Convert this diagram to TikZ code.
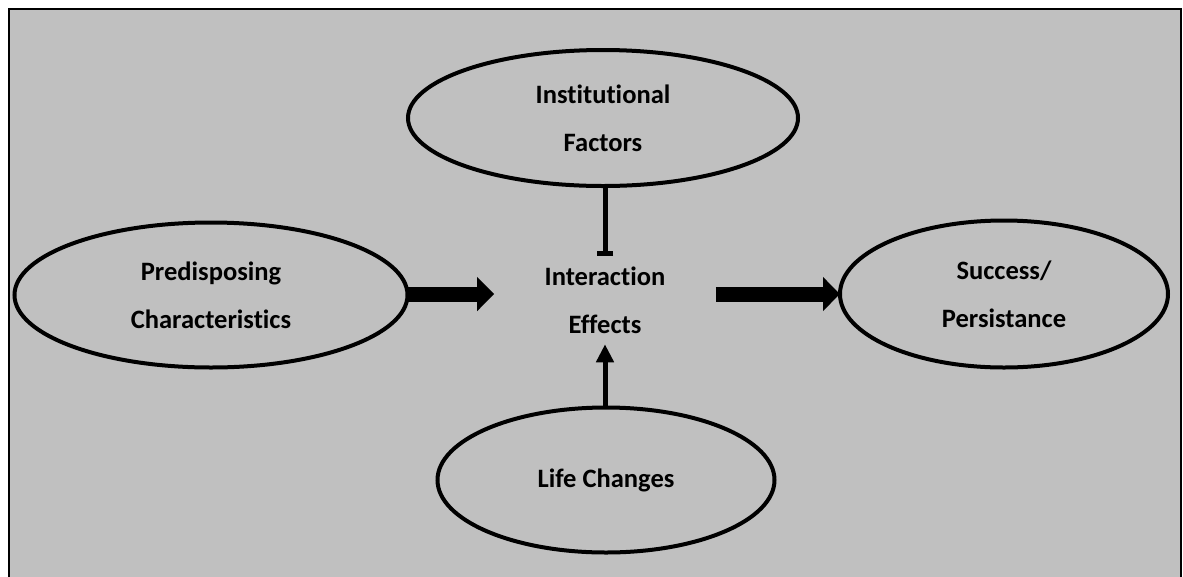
\documentclass[tikz,border=0pt]{standalone}
\usepackage{fontspec}
\setmainfont{Carlito}[Ligatures=NoCommon]
\usetikzlibrary{arrows.meta,shapes.geometric}
\definecolor{panel}{HTML}{C0C0C0}
\tikzset{
  labeltext/.style={align=center, font=\fontsize{19.9}{36}\selectfont\bfseries},
  oval/.style={draw=black, line width=3pt, ellipse, inner sep=0pt, outer sep=0pt, labeltext},
  fatarrow/.style={line width=11.25pt, -{Triangle[length=12.75pt, width=24.75pt]}},
  thinarrow/.style={line width=3.75pt, -{Triangle[length=13.5pt, width=12.75pt]}},
  bararrow/.style={line width=3.75pt, -{Bar[width=12pt, line width=3.5pt]}},
}
\begin{document}
\begin{tikzpicture}[x=0.75pt, y=-0.75pt]
  \useasboundingbox (0,0) rectangle (1183,576);
  % grey panel, running off the lower edge
  \begin{scope}
    \clip (0,0) rectangle (1183,576);
    \filldraw[fill=panel, draw=black, line width=1.5pt] (9,9) rectangle (1181,590);
  \end{scope}

  \node[oval, minimum width=292.5pt, minimum height=102pt] (inst) at (603,118)
    {Institutional\\Factors};
  \node[oval, minimum width=294.75pt, minimum height=108.75pt] (pred) at (211,295)
    {Predisposing\\Characteristics};
  \node[oval, minimum width=252.75pt, minimum height=108.75pt] (life) at (606,480)
    {Life Changes};
  \node[oval, minimum width=246pt, minimum height=110.25pt] (succ) at (1004,294)
    {Success/\\Persistance};
  \node[inner sep=0pt, labeltext, minimum width=165.75pt, minimum height=73.5pt] (ie)
    at (605,300) {Interaction\\Effects};

  \draw[fatarrow] (pred.east |- 0,294) -- (ie.west |- 0,294);
  \draw[fatarrow] (ie.east |- 0,294) -- (succ.west |- 0,294);
  \draw[thinarrow, shorten >=-3.75pt] (life.north -| ie.south) -- (ie.south);
  \draw[bararrow, shorten >=-3.75pt] (inst.south -| ie.north) -- (ie.north);
\end{tikzpicture}
\end{document}
